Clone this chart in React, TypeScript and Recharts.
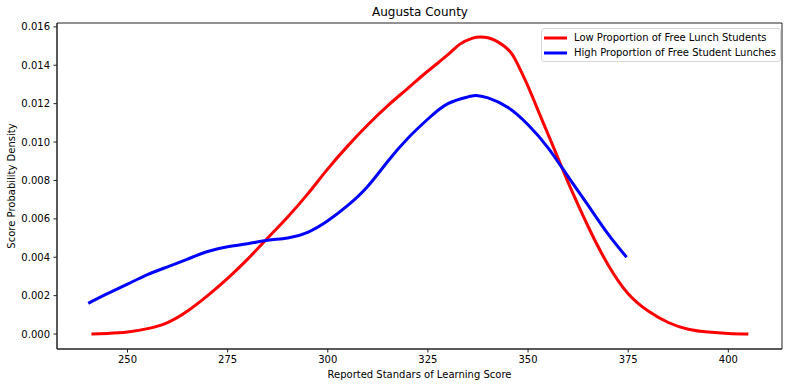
import { Line, LineChart, ReferenceArea, XAxis, YAxis } from "recharts";

// values (KDE curves)
const lowScores = [
  241, 245, 250, 255, 260, 265, 270, 275, 280, 285, 290, 295, 300, 305, 310, 315, 320, 325,
  330, 333, 336, 338, 340, 342, 344, 346, 348, 350, 352, 355, 358, 360, 365, 370, 375, 380,
  385, 390, 395, 400, 405,
];
const lowDensity = [
  0.0, 0.00003, 0.0001, 0.00028, 0.0006, 0.0012, 0.002, 0.0029, 0.0039, 0.005, 0.0061,
  0.0073, 0.0086, 0.0098, 0.0109, 0.0119, 0.0128, 0.0137, 0.01455, 0.0151, 0.0154, 0.01547,
  0.01543, 0.01527, 0.0150, 0.01458, 0.0138, 0.0129, 0.0119, 0.0104, 0.0089, 0.0079, 0.0056,
  0.0036, 0.0021, 0.0012, 0.0006, 0.00025, 0.0001, 0.00003, 0.0,
];

const highScores = [
  240.2, 245, 250, 255, 260, 265, 270, 275, 280, 285, 290, 295, 300, 305, 310, 315, 320, 325,
  330, 335, 337, 340, 345, 350, 355, 360, 365, 370, 374.6,
];
const highDensity = [
  0.0016, 0.0021, 0.0026, 0.0031, 0.0035, 0.0039, 0.0043, 0.00455, 0.0047, 0.00488, 0.005,
  0.0053, 0.0059, 0.0067, 0.0077, 0.009, 0.0102, 0.0112, 0.012, 0.01235, 0.01243, 0.0123,
  0.0118, 0.0109, 0.0097, 0.0082, 0.0067, 0.0052, 0.004,
];

const seriesNames = ["Low Proportion of Free Lunch Students", "High Proportion of Free Student Lunches"];
const seriesColors = ["#ff0000", "#0000ff"];

const xTicks = [250, 275, 300, 325, 350, 375, 400];
const yTicks = [0, 0.002, 0.004, 0.006, 0.008, 0.01, 0.012, 0.014, 0.016];
const xDomain: [number, number] = [232.4, 413.4];
const yDomain: [number, number] = [-0.00078, 0.0162];

const lowData = lowScores.map((x, i) => ({ x, y: lowDensity[i] }));
const highData = highScores.map((x, i) => ({ x, y: highDensity[i] }));

const font = "'DejaVu Sans', sans-serif";
const ink = "#222";
const tickStyle = { fontSize: 10, fill: "#000", fontFamily: font };

function LegendBox() {
  return (
    <div
      style={{
        position: "absolute",
        left: 541,
        top: 28,
        background: "rgba(255,255,255,0.8)",
        border: "1px solid #d6d6d6",
        borderRadius: 3,
        padding: "1px 4px 1px 2px",
        fontFamily: font,
        fontSize: 10,
        color: "#000",
      }}
    >
      {seriesNames.map((name, i) => (
        <div key={name} style={{ display: "flex", alignItems: "center", height: 15 }}>
          <svg width={23} height={4} style={{ marginRight: 7 }}>
            <line x1={0} y1={2} x2={23} y2={2} stroke={seriesColors[i]} strokeWidth={3} />
          </svg>
          <span>{name}</span>
        </div>
      ))}
    </div>
  );
}

export default function App() {
  return (
    <div style={{ position: "absolute", left: 0, top: 0, width: 789, height: 387, background: "#fff" }}>
      <div
        style={{
          position: "absolute",
          left: 0,
          width: 840,
          top: 5,
          textAlign: "center",
          fontFamily: font,
          fontSize: 12,
          color: "#000",
        }}
      >
        Augusta County
      </div>
      <LineChart width={789} height={387} margin={{ top: 23, right: 7, left: 0, bottom: 0 }}>
        <XAxis
          dataKey="x"
          type="number"
          domain={xDomain}
          ticks={xTicks}
          allowDataOverflow
          height={38}
          tickSize={3.5}
          tickMargin={3.5}
          tick={tickStyle}
          axisLine={{ stroke: ink }}
          tickLine={{ stroke: ink }}
          label={{
            value: "Reported Standars of Learning Score",
            position: "insideBottom",
            offset: 9,
            style: { fontSize: 10, fill: "#000", fontFamily: font },
          }}
        />
        <YAxis
          type="number"
          domain={yDomain}
          ticks={yTicks}
          allowDataOverflow
          width={57}
          tickSize={3.5}
          tickMargin={3.5}
          tick={tickStyle}
          tickFormatter={(v: number) => v.toFixed(3)}
          axisLine={{ stroke: ink }}
          tickLine={{ stroke: ink }}
          label={{
            value: "Score Probability Density",
            angle: -90,
            position: "insideLeft",
            offset: 11,
            style: { fontSize: 10, fill: "#000", fontFamily: font, textAnchor: "middle" },
          }}
        />
        <ReferenceArea
          x1={xDomain[0]}
          x2={xDomain[1]}
          y1={yDomain[0]}
          y2={yDomain[1]}
          fill="none"
          stroke={ink}
          strokeWidth={1}
        />
        <Line
          data={lowData}
          dataKey="y"
          type="natural"
          stroke={seriesColors[0]}
          strokeWidth={3}
          dot={false}
          isAnimationActive={false}
          name={seriesNames[0]}
        />
        <Line
          data={highData}
          dataKey="y"
          type="natural"
          stroke={seriesColors[1]}
          strokeWidth={3}
          dot={false}
          isAnimationActive={false}
          name={seriesNames[1]}
        />
      </LineChart>
      <LegendBox />
    </div>
  );
}
